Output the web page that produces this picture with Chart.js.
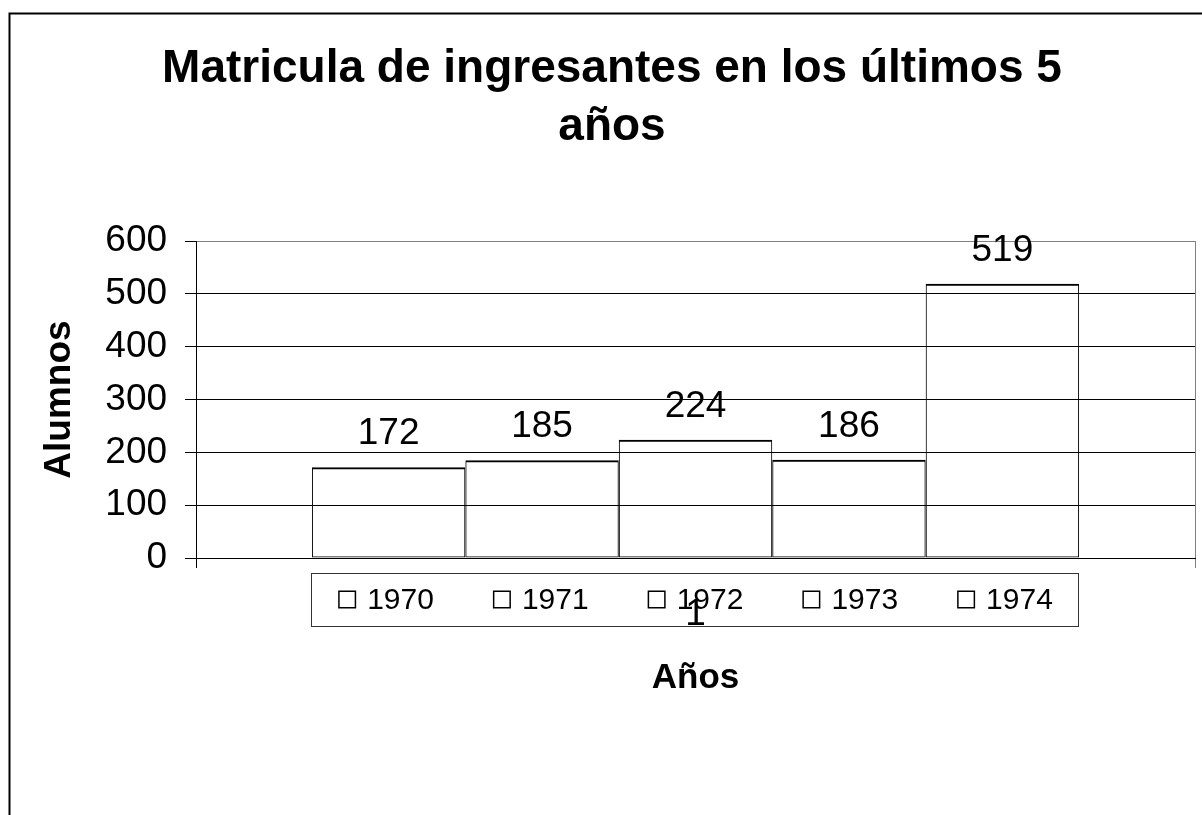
<!DOCTYPE html>
<html>
<head>
<meta charset="utf-8">
<script src="https://cdn.jsdelivr.net/npm/chart.js@4.4.1/dist/chart.umd.min.js"></script>
<style>
  html, body { margin: 0; padding: 0; background: #fff; }
  #wrap { position: absolute; left: 0; top: 0; width: 1202px; height: 815px; }
</style>
</head>
<body>
<div id="wrap"><canvas id="c" width="1202" height="815"></canvas></div>
<script>
// ---- data ----
const categories = ['1'];
const seriesLabels = ['1970', '1971', '1972', '1973', '1974'];
const seriesValues = [172, 185, 224, 186, 519];
const yTickValues = [0, 100, 200, 300, 400, 500, 600];
const chartTitle = ['Matricula de ingresantes en los últimos 5', 'años'];
const xTitle = 'Años';
const yTitle = 'Alumnos';

const FONT = '"Liberation Sans", Arial, Helvetica, sans-serif';
Chart.defaults.font.family = FONT;
Chart.defaults.color = '#000';

const datasets = seriesLabels.map((lab, i) => ({
  label: lab,
  data: [seriesValues[i]],
  backgroundColor: 'rgba(255,255,255,0)',
  borderColor: '#000',
  borderWidth: { top: 2, left: 1, right: 1, bottom: 1 },
  borderSkipped: false,
  barPercentage: 1,
  categoryPercentage: 0.768
}));

const framePlugin = {
  id: 'frame',
  beforeDraw(chart) {
    const ctx = chart.ctx;
    ctx.save();
    ctx.fillStyle = '#fff';
    ctx.fillRect(0, 0, chart.width, chart.height);
    ctx.strokeStyle = '#000';
    ctx.lineWidth = 2;
    ctx.strokeRect(9.5, 13.5, chart.width + 50, chart.height + 50);
    ctx.restore();
  }
};

const valueLabelPlugin = {
  id: 'valueLabels',
  afterDatasetsDraw(chart) {
    const ctx = chart.ctx;
    ctx.save();
    ctx.font = '37px ' + FONT;
    ctx.fillStyle = '#000';
    ctx.textAlign = 'center';
    ctx.textBaseline = 'alphabetic';
    chart.data.datasets.forEach((ds, i) => {
      const meta = chart.getDatasetMeta(i);
      meta.data.forEach((el, j) => {
        ctx.fillText(String(ds.data[j]), el.x, el.y - 23);
      });
    });
    ctx.restore();
  }
};

const boxLegendPlugin = {
  id: 'boxLegend',
  afterDraw(chart) {
    const ctx = chart.ctx;
    const ca = chart.chartArea;
    ctx.save();
    ctx.font = '30px ' + FONT;
    const box = 18, gap = 11, spacing = 59;
    const items = chart.data.datasets.map(ds => ({
      text: ds.label,
      tw: ctx.measureText(ds.label).width,
      stroke: ds.borderColor
    }));
    items.forEach(it => it.w = box + gap + it.tw);
    const total = items.reduce((s, it) => s + it.w, 0) + spacing * (items.length - 1);
    let x = (ca.left + ca.right) / 2 - total / 2;
    const top = ca.bottom + 15, h = 53, cy = top + h / 2;
    ctx.strokeStyle = '#333';
    ctx.lineWidth = 1;
    ctx.strokeRect(Math.round(x - 27) + 0.5, Math.round(top) + 0.5, Math.round(total + 52), h);
    ctx.textAlign = 'left';
    ctx.textBaseline = 'middle';
    items.forEach(it => {
      ctx.strokeStyle = it.stroke;
      ctx.lineWidth = 1.5;
      ctx.strokeRect(x + 0.75, cy - box / 2 + 0.75, box - 1.5, box - 1.5);
      ctx.fillStyle = '#000';
      ctx.fillText(it.text, x + box + gap, cy + 1);
      x += it.w + spacing;
    });
    ctx.restore();
  }
};

new Chart(document.getElementById('c'), {
  type: 'bar',
  data: { labels: categories, datasets },
  options: {
    responsive: false,
    animation: false,
    devicePixelRatio: 1,
    layout: { padding: { left: 29, right: 7, top: 0, bottom: 116 } },
    plugins: {
      legend: { display: false },
      tooltip: { enabled: false },
      title: {
        display: true,
        text: chartTitle,
        color: '#000',
        font: { size: 46, weight: 'bold', lineHeight: 1.267 },
        padding: { top: 40, bottom: 84.5 }
      }
    },
    scales: {
      x: {
        offset: true,
        grid: {
          display: true,
          offset: true,
          drawOnChartArea: true,
          tickLength: 10,
          color: ctx => ctx.index === 0 ? '#000' : '#808080',
          tickColor: ctx => ctx.index === 0 ? '#000' : '#808080'
        },
        border: { display: true, color: '#000', width: 1 },
        ticks: { font: { size: 37, lineHeight: 0.9 }, padding: 30, color: '#000', maxRotation: 0 },
        title: {
          display: true,
          text: xTitle,
          color: '#000',
          font: { size: 35, weight: 'bold', lineHeight: 1.2 },
          padding: { top: -4.3, bottom: 0 }
        }
      },
      y: {
        min: yTickValues[0],
        max: yTickValues[yTickValues.length - 1],
        afterBuildTicks: axis => { axis.ticks = yTickValues.map(v => ({ value: v })); },
        grid: {
          tickLength: 11,
          color: ctx => (ctx.tick && ctx.tick.value === 600) ? '#808080' : '#000',
          tickColor: '#000',
          lineWidth: 1
        },
        border: { display: true, color: '#000', width: 1 },
        ticks: { font: { size: 37 }, padding: 18, color: '#000' },
        title: {
          display: true,
          text: yTitle,
          color: '#000',
          font: { size: 37, weight: 'bold', lineHeight: 1.2 },
          padding: { top: 8.8, bottom: 5.1 }
        }
      }
    }
  },
  plugins: [framePlugin, valueLabelPlugin, boxLegendPlugin]
});
</script>
</body>
</html>
